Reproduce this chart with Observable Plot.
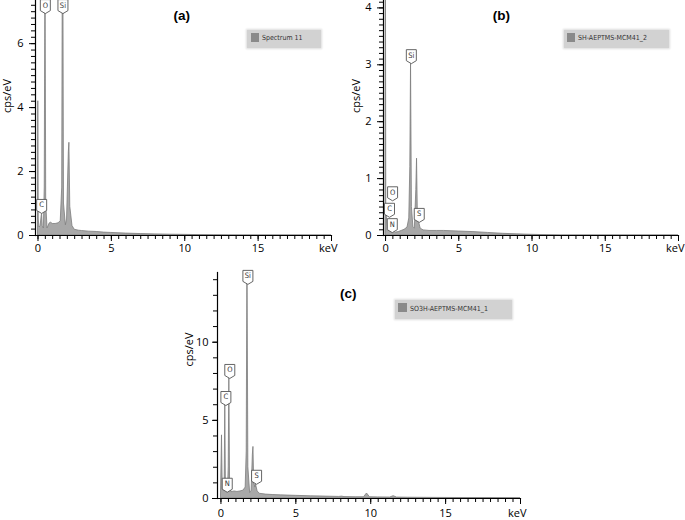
<!DOCTYPE html>
<html>
<head>
<meta charset="utf-8">
<script src="https://cdn.jsdelivr.net/npm/d3@7"></script>
<script src="https://cdn.jsdelivr.net/npm/@observablehq/plot@0.6"></script>
<style>
  html, body { margin: 0; padding: 0; background: #fff; }
  #page { position: relative; width: 685px; height: 520px; overflow: hidden; background: #fff; }
  .legend { position: absolute; background: #d2d2d2; box-shadow: 0 0 2px 1px #dcdcdc;
            font-family: "DejaVu Sans Condensed", "Liberation Sans", sans-serif;
            font-size: 7px; color: #333; white-space: nowrap; }
  .legend .sw { position: absolute; background: #8a8a8a; }
  .legend .tx { position: absolute; line-height: 1; }
</style>
</head>
<body>
<div id="page"></div>
<script>
// ---------------- DATA ----------------
// Panel (a): Spectrum 11
const kevA = [0, 0.02, 0.05, 0.1, 0.18, 0.25, 0.28, 0.32, 0.4, 0.46, 0.51, 0.56, 0.65, 0.8, 0.9, 1.0, 1.2, 1.4, 1.55, 1.65, 1.71, 1.77, 1.9, 1.98, 2.1, 2.14, 2.2, 2.35, 2.5, 2.8, 3, 3.5, 4, 4.5, 5, 6, 7, 8, 9, 10, 11, 12, 13, 14, 20];
const cpsA = [0, 4.2, 0.5, 0.25, 0.3, 0.6, 0.68, 0.3, 0.22, 1.5, 9, 1.0, 0.22, 0.38, 0.4, 0.36, 0.36, 0.38, 0.45, 1.5, 12, 1.0, 0.32, 0.5, 2.6, 2.9, 0.9, 0.3, 0.18, 0.15, 0.14, 0.12, 0.11, 0.09, 0.08, 0.06, 0.045, 0.035, 0.025, 0.02, 0.012, 0.006, 0.003, 0, 0];
const tagElA = ["O", "Si", "C"];
const tagKevA = [0.5, 1.7, 0.25];
const tagCpsA = [6.94, 6.94, 0.69];

// Panel (b): SH-AEPTMS-MCM41_2
const kevB = [0, 0.02, 0.05, 0.1, 0.18, 0.27, 0.33, 0.39, 0.44, 0.5, 0.56, 0.7, 0.9, 1.1, 1.3, 1.5, 1.62, 1.69, 1.74, 1.8, 1.9, 2.0, 2.1, 2.15, 2.2, 2.3, 2.4, 2.6, 3, 3.5, 4, 4.5, 5, 6, 7, 8, 9, 10, 11, 12, 20];
const cpsB = [0, 6, 0.4, 0.3, 0.12, 0.2, 0.08, 0.07, 0.1, 0.22, 0.08, 0.05, 0.06, 0.08, 0.1, 0.14, 0.3, 1.2, 3.03, 0.5, 0.15, 0.12, 0.8, 1.35, 0.45, 0.22, 0.12, 0.09, 0.08, 0.08, 0.08, 0.075, 0.07, 0.06, 0.045, 0.03, 0.02, 0.012, 0.006, 0, 0];
const tagElB = ["Si", "O", "C", "N", "S"];
const tagKevB = [1.76, 0.48, 0.27, 0.46, 2.3];
const tagCpsB = [3.02, 0.61, 0.32, 0.05, 0.23];

// Panel (c): SO3H-AEPTMS-MCM41_1
const kevC = [0, 0.07, 0.12, 0.18, 0.25, 0.29, 0.33, 0.38, 0.42, 0.47, 0.52, 0.56, 0.61, 0.7, 0.9, 1.1, 1.3, 1.5, 1.65, 1.72, 1.77, 1.83, 1.95, 2.05, 2.13, 2.17, 2.22, 2.3, 2.34, 2.45, 2.6, 3, 3.5, 4, 5, 6, 7, 7.9, 8.08, 8.25, 9, 9.55, 9.75, 9.95, 10.5, 11.3, 11.53, 11.75, 12.5, 14, 16, 18, 20];
const cpsC = [0, 4.04, 0.6, 0.5, 1.0, 6.2, 0.8, 0.45, 0.5, 0.5, 2, 7.68, 0.8, 0.4, 0.45, 0.42, 0.45, 0.5, 0.7, 3, 16, 2, 0.35, 0.5, 2.8, 3.3, 1.0, 0.7, 0.9, 0.45, 0.3, 0.25, 0.22, 0.2, 0.17, 0.14, 0.12, 0.1, 0.12, 0.09, 0.08, 0.08, 0.32, 0.08, 0.07, 0.06, 0.15, 0.06, 0.05, 0.04, 0.03, 0.025, 0.02];
const tagElC = ["Si", "O", "C", "N", "S"];
const tagKevC = [1.8, 0.59, 0.33, 0.42, 2.38];
const tagCpsC = [13.7, 7.68, 5.95, 0.4, 0.91];

const panelTitles = ["(a)", "(b)", "(c)"];
const seriesNames = ["Spectrum 11", "SH-AEPTMS-MCM41_2", "SO3H-AEPTMS-MCM41_1"];
const xMajorTicks = [0, 5, 10, 15];
const xEndTick = 20;
const yMajorA = [0, 2, 4, 6];
const yMajorB = [0, 1, 2, 3, 4];
const yMajorC = [0, 5, 10];
const yLabel = "cps/eV";
const xEndLabel = "keV";

// ---------------- LAYOUT ----------------
const panels = [
  { kev: kevA, cps: cpsA, tagEl: tagElA, tagKev: tagKevA, tagCps: tagCpsA, yMajor: yMajorA, yMinorStep: 0.2,
    left: 0, top: 0, width: 340, height: 260, mL: 35, mR: 9, mT: 0, mB: 25,
    xMin: -0.17, yMax: 7.35, titleKev: 9.8, titleDy: 15, yLabDx: -28, yLabDy: -5, ySize: 6, yPad: 6, xPad: 3 },
  { kev: kevB, cps: cpsB, tagEl: tagElB, tagKev: tagKevB, tagCps: tagCpsB, yMajor: yMajorB, yMinorStep: 0.1,
    left: 340, top: 0, width: 345, height: 260, mL: 43, mR: 7, mT: 0, mB: 25,
    xMin: -0.14, yMax: 4.13, titleKev: 7.9, titleDy: 15, yLabDx: -27, yLabDy: -5, ySize: 6, yPad: 6, xPad: 3 },
  { kev: kevC, cps: cpsC, tagEl: tagElC, tagKev: tagKevC, tagCps: tagCpsC, yMajor: yMajorC, yMinorStep: 1,
    left: 180, top: 250, width: 350, height: 270, mL: 37, mR: 10, mT: 22, mB: 22,
    xMin: -0.23, yMax: 14.46, titleKev: 8.5, titleDy: 21, yLabDx: -28, yLabDy: -19, ySize: 5, yPad: 4, xPad: 5 }
];
const legends = [
  { left: 247, top: 30, width: 74, height: 18, swL: 4, swT: 3, swW: 8, swH: 9, txL: 15, txT: 5 },
  { left: 564, top: 30, width: 105, height: 18, swL: 3, swT: 3, swW: 8, swH: 9, txL: 14, txT: 5 },
  { left: 395, top: 300, width: 117, height: 19, swL: 3, swT: 3, swW: 8.5, swH: 9, txL: 15, txT: 5.5 }
];

const tickFont = "'Open Sans', sans-serif";

// tag symbol: tip at the anchor point, box above
const tagSymbol = {
  draw(ctx) {
    const w = 5, h = 14, p = 3;
    ctx.moveTo(0, 0);
    ctx.lineTo(w, -p);
    ctx.lineTo(w, -h);
    ctx.lineTo(-w, -h);
    ctx.lineTo(-w, -p);
    ctx.closePath();
  }
};

const page = document.getElementById("page");

panels.forEach((p, i) => {
  const spec = p.kev.map((k, j) => ({ kev: k, cps: p.cps[j] }));
  const tags = p.tagEl.map((e, j) => ({ el: e, kev: p.tagKev[j], cps: p.tagCps[j] }));
  const yMinor = d3.range(0, p.yMax + 1e-9, p.yMinorStep).map(v => +v.toFixed(3));
  const xMinor = d3.range(0, 20.001, 0.5);
  const chart = Plot.plot({
    width: p.width,
    height: p.height,
    marginLeft: p.mL, marginRight: p.mR, marginTop: p.mT, marginBottom: p.mB,
    x: { domain: [p.xMin, 20] },
    y: { domain: [0, p.yMax] },
    marks: [
      Plot.areaY(spec, { x: "kev", y: "cps", fill: "#a8a8a8", stroke: "#7c7c7c", strokeWidth: 0.8, clip: true }),
      Plot.axisX({ ticks: xMinor, tickSize: 4, tickFormat: () => "", label: null }),
      Plot.axisX({ ticks: [...xMajorTicks, xEndTick], tickSize: 6, tickPadding: p.xPad, label: null, fontSize: 11, fontFamily: tickFont,
                   tickFormat: d => d === xEndTick ? "" : String(d) }),
      Plot.text([xEndLabel], { x: () => xEndTick, frameAnchor: "bottom", dy: 6 + p.xPad, dx: 6, lineAnchor: "top",
                   textAnchor: "end", fontSize: 11, fontFamily: tickFont }),
      Plot.axisY({ ticks: yMinor, tickSize: 4, tickFormat: () => "", label: null }),
      Plot.axisY({ ticks: p.yMajor, tickSize: p.ySize, tickPadding: p.yPad, label: null, fontSize: 11, fontFamily: tickFont,
                   tickFormat: d => String(d) }),
      Plot.frame({ anchor: "left", strokeWidth: 1.2 }),
      Plot.frame({ anchor: "bottom", strokeWidth: 1.2 }),
      Plot.text([yLabel], { frameAnchor: "left", rotate: -90, dx: p.yLabDx, dy: p.yLabDy, fontSize: 11, fontFamily: tickFont }),
      Plot.text([panelTitles[i]], { x: () => p.titleKev, frameAnchor: "top", dy: p.titleDy, lineAnchor: "middle",
                   fontSize: 13.5, fontWeight: "bold", fontFamily: "'Liberation Sans', Arial, sans-serif" }),
      Plot.dot(tags, { x: "kev", y: "cps", symbol: tagSymbol, r: 5, fill: "#fff", stroke: "#555", strokeWidth: 0.9 }),
      Plot.text(tags, { x: "kev", y: "cps", text: "el", dy: -8.5, lineAnchor: "middle", fontSize: 7.5, fill: "#333",
                   fontFamily: "'DejaVu Sans Condensed', sans-serif" })
    ]
  });
  chart.style.position = "absolute";
  chart.style.left = p.left + "px";
  chart.style.top = p.top + "px";
  page.appendChild(chart);
});

legends.forEach((l, i) => {
  const box = document.createElement("div");
  box.className = "legend";
  Object.assign(box.style, { left: l.left + "px", top: l.top + "px", width: l.width + "px", height: l.height + "px" });
  const sw = document.createElement("div");
  sw.className = "sw";
  Object.assign(sw.style, { left: l.swL + "px", top: l.swT + "px", width: l.swW + "px", height: l.swH + "px" });
  const tx = document.createElement("div");
  tx.className = "tx";
  tx.textContent = seriesNames[i];
  Object.assign(tx.style, { left: l.txL + "px", top: l.txT + "px" });
  box.appendChild(sw);
  box.appendChild(tx);
  page.appendChild(box);
});
</script>
</body>
</html>
